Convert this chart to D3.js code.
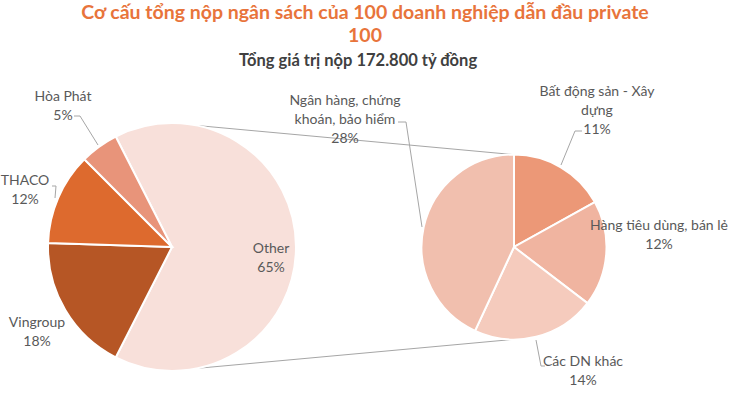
<!DOCTYPE html>
<html>
<head>
<meta charset="utf-8">
<script src="https://cdn.jsdelivr.net/npm/d3@7"></script>
<style>
  html, body { margin: 0; padding: 0; background: #fff; }
  svg { display: block; }
  .lbl { font-family: Lato, "Noto Sans", sans-serif; font-size: 14px; fill: #595959; }
</style>
</head>
<body>
<svg id="chart" width="730" height="411"></svg>
<script>
// primary pie (companies)
const mainNames = ["Other", "Vingroup", "THACO", "Hòa Phát"];
const mainValues = [65, 18, 12, 5];
const mainColors = ["#f8e0da", "#b65625", "#dd6a2e", "#e8947a"];

// secondary pie (split of "Other")
const subNames = ["Bất động sản - Xây dựng", "Hàng tiêu dùng, bán lẻ", "Các DN khác", "Ngân hàng, chứng khoán, bảo hiểm"];
const subValues = [11, 12, 14, 28];
const subColors = ["#ec9877", "#f0b4a0", "#f5cbbd", "#f1bfae"];

const titleLines = ["Cơ cấu tổng nộp ngân sách của 100 doanh nghiệp dẫn đầu private", "100"];
const subtitle = "Tổng giá trị nộp 172.800 tỷ đồng";

const svg = d3.select("#chart");
const width = 730;

svg.append("g")
  .selectAll("text")
  .data(titleLines)
  .join("text")
  .attr("x", width / 2)
  .attr("y", (d, i) => 19 + i * 23)
  .attr("text-anchor", "middle")
  .attr("font-family", "Lato, 'Noto Sans', sans-serif")
  .attr("font-weight", 700)
  .attr("font-size", 19.5)
  .attr("fill", "#e8743b")
  .text(d => d);

svg.append("text")
  .attr("x", width / 2 - 7)
  .attr("y", 66)
  .attr("text-anchor", "middle")
  .attr("font-family", "Lato, 'Noto Sans', sans-serif")
  .attr("font-weight", 700)
  .attr("font-size", 16.5)
  .attr("fill", "#404040")
  .text(subtitle);

// geometry
const left = { cx: 172, cy: 247, r: 124 };
const right = { cx: 514, cy: 247, r: 92.5 };
const toRad = Math.PI / 180;

// "Other" slice centred on the right (east): span = 65% of 360
const otherSpan = mainValues[0] / d3.sum(mainValues) * 360;
const mainStart = 90 - otherSpan / 2;

const mainPie = d3.pie().sort(null).value(d => d)
  .startAngle(mainStart * toRad).endAngle((mainStart + 360) * toRad);
const subPie = d3.pie().sort(null).value(d => d)
  .startAngle(0).endAngle(2 * Math.PI);

const mainArcs = mainPie(mainValues);
const subArcs = subPie(subValues);

const arcL = d3.arc().innerRadius(0).outerRadius(left.r);
const arcR = d3.arc().innerRadius(0).outerRadius(right.r);

function pt(c, deg, rr) {
  const a = deg * toRad;
  return [c.cx + (rr ?? c.r) * Math.sin(a), c.cy - (rr ?? c.r) * Math.cos(a)];
}

// connector lines
const line = d3.line();
const conn = svg.append("g").attr("fill", "none").attr("stroke", "#a6a6a6").attr("stroke-width", 1);
conn.append("path").attr("d", line([pt(left, 11.5), pt(right, -1)]));
conn.append("path").attr("d", line([pt(left, 168), pt(right, 181)]));

svg.append("g")
  .attr("transform", `translate(${left.cx},${left.cy})`)
  .selectAll("path")
  .data(mainArcs)
  .join("path")
  .attr("d", arcL)
  .attr("fill", (d, i) => mainColors[i])
  .attr("stroke", "#fff")
  .attr("stroke-width", 2);

svg.append("g")
  .attr("transform", `translate(${right.cx},${right.cy})`)
  .selectAll("path")
  .data(subArcs)
  .join("path")
  .attr("d", arcR)
  .attr("fill", (d, i) => subColors[i])
  .attr("stroke", "#fff")
  .attr("stroke-width", 2);

// leader lines
const leaders = svg.append("g").attr("fill", "none").attr("stroke", "#a6a6a6").attr("stroke-width", 1);
const leaderPts = [
  [[74, 116], [80, 116], [98, 145]],
  [[52, 186], [56, 186], [55, 198]],
  [[398, 122], [406, 122], [422, 227]],
  [[582, 131], [575, 131], [561, 165]],
  [[536, 340], [541, 366], [545, 366]]
];
leaderPts.forEach(p => leaders.append("path").attr("d", line(p)));

// data labels
const labels = [
  { x: 63, y: 101, lines: ["Hòa Phát", mainValues[3] + "%"] },
  { x: 25, y: 185, lines: ["THACO", mainValues[2] + "%"] },
  { x: 37, y: 327, lines: ["Vingroup", mainValues[1] + "%"] },
  { x: 271, y: 253, lines: ["Other", mainValues[0] + "%"] },
  { x: 345, y: 105, lines: ["Ngân hàng, chứng", "khoán, bảo hiểm", subValues[3] + "%"] },
  { x: 597, y: 96, lines: ["Bất động sản - Xây", "dựng", subValues[0] + "%"] },
  { x: 659, y: 230, lines: ["Hàng tiêu dùng, bán lẻ", subValues[1] + "%"] },
  { x: 583, y: 366, lines: ["Các DN khác", subValues[2] + "%"] }
];

const lg = svg.append("g");
labels.forEach(l => {
  const t = lg.append("text").attr("class", "lbl").attr("text-anchor", "middle");
  l.lines.forEach((s, i) => {
    t.append("tspan").attr("x", l.x).attr("y", l.y + i * 19).text(s);
  });
});
</script>
</body>
</html>
